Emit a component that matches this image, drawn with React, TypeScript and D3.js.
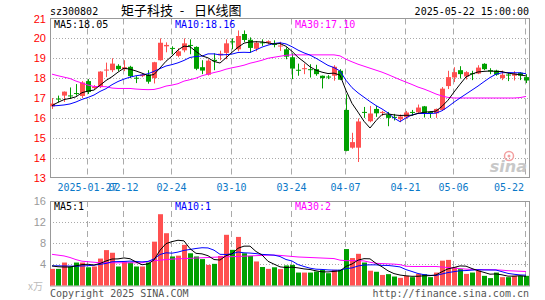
import React from 'react';
import * as d3 from 'd3';

// daily candles, 2025-01-17 .. 2025-05-22
const opens = [
  16.58, 16.97, 17.12, 17.13, 17.25, 17.1, 17.85, 17.5, 17.57, 18.38,
  18.4, 18.62, 18.45, 18.57, 18.02, 18.1, 18.18, 18.0, 18.9, 19.6,
  19.52, 19.12, 19.4, 19.67, 19.57, 18.55, 18.17, 18.92, 19.15, 19.27,
  19.85, 19.45, 20.22, 19.93, 19.48, 19.8, 19.78, 19.72, 19.6, 19.45,
  19.05, 18.42, 18.45, 18.45, 18.45, 18.12, 18.08, 18.12, 18.37, 16.4,
  14.5, 14.5, 16.3, 15.83, 16.45, 16.25, 16.17, 16.05, 15.93, 16.03,
  16.3, 16.28, 16.58, 16.3, 16.23, 16.4, 17.6, 18.03, 18.4, 18.08,
  18.25, 18.23, 18.72, 18.4, 18.38, 18.0, 18.18, 18.12, 18.27, 18.05,
];
const highs = [
  17.0, 17.12, 17.33, 17.53, 17.7, 17.85, 17.95, 17.65, 18.35, 18.78,
  19.0, 18.7, 18.9, 18.62, 18.1, 18.25, 18.4, 18.82, 20.0, 19.8,
  19.6, 19.5, 20.0, 19.95, 19.6, 18.9, 18.95, 19.25, 19.38, 19.95,
  20.0, 20.4, 20.4, 20.05, 19.87, 19.95, 19.9, 19.9, 19.83, 19.55,
  19.25, 18.73, 18.73, 18.7, 18.67, 18.13, 18.15, 18.65, 18.45, 17.18,
  15.25, 15.97, 16.55, 16.6, 16.6, 16.35, 16.3, 16.2, 16.17, 16.35,
  16.4, 16.67, 16.6, 16.33, 16.47, 17.55, 18.37, 18.55, 18.6, 18.35,
  18.37, 18.65, 18.75, 18.5, 18.42, 18.38, 18.25, 18.35, 18.3, 18.2,
];
const lows = [
  16.45, 16.78, 16.8, 16.95, 17.12, 17.0, 17.2, 17.45, 17.5, 18.05,
  18.3, 18.35, 18.35, 18.0, 17.75, 18.05, 17.72, 17.73, 18.88, 19.3,
  19.2, 19.05, 19.3, 19.2, 18.4, 18.2, 18.13, 18.4, 18.9, 18.95,
  19.45, 19.35, 19.82, 19.27, 19.35, 19.62, 19.7, 19.55, 19.37, 18.95,
  17.95, 18.12, 18.2, 18.03, 18.12, 17.48, 17.95, 17.87, 17.9, 14.32,
  14.45, 13.78, 16.0, 15.78, 16.05, 16.1, 15.58, 15.87, 15.78, 15.95,
  16.12, 16.25, 16.02, 16.0, 16.0, 16.35, 17.45, 17.8, 17.98, 17.93,
  17.9, 18.2, 18.4, 18.2, 18.12, 17.9, 17.85, 17.88, 17.9, 17.75,
];
const closes = [
  16.72, 16.93, 17.32, 17.1, 17.23, 17.78, 17.3, 17.58, 18.33, 18.43,
  18.73, 18.45, 18.55, 18.1, 17.98, 18.18, 17.82, 18.8, 19.78, 19.67,
  19.48, 19.35, 19.75, 19.63, 18.47, 18.38, 18.88, 18.85, 19.23, 19.75,
  19.8, 20.12, 19.92, 19.52, 19.78, 19.76, 19.86, 19.68, 19.64, 19.08,
  18.48, 18.38, 18.5, 18.42, 18.2, 18.0, 18.05, 18.57, 17.92, 14.34,
  14.78, 15.82, 16.27, 16.22, 16.23, 16.3, 16.0, 16.02, 16.07, 16.27,
  16.27, 16.52, 16.25, 16.23, 16.45, 17.47, 18.05, 18.3, 18.2, 18.3,
  18.2, 18.53, 18.45, 18.33, 18.17, 18.17, 18.15, 18.23, 18.12, 17.88,
];
const ma5 = [
  16.62, 16.78, 16.92, 16.98, 17.06, 17.27, 17.35, 17.4, 17.64, 17.88,
  18.07, 18.3, 18.5, 18.45, 18.36, 18.25, 18.13, 18.18, 18.51, 18.85,
  19.11, 19.42, 19.61, 19.58, 19.34, 19.12, 19.02, 18.84, 18.76, 19.02,
  19.3, 19.55, 19.76, 19.82, 19.83, 19.82, 19.77, 19.72, 19.74, 19.6,
  19.35, 19.05, 18.82, 18.57, 18.4, 18.3, 18.23, 18.25, 18.15, 17.38,
  16.73, 16.29, 15.83, 15.49, 15.86, 16.17, 16.2, 16.15, 16.12, 16.13,
  16.13, 16.23, 16.28, 16.31, 16.34, 16.58, 16.89, 17.3, 17.69, 18.06,
  18.21, 18.31, 18.34, 18.36, 18.34, 18.33, 18.25, 18.21, 18.17, 18.11,
];
const ma10 = [
  16.6, 16.62, 16.65, 16.7, 16.8, 16.93, 17.03, 17.15, 17.33, 17.47,
  17.67, 17.83, 17.95, 18.05, 18.12, 18.16, 18.22, 18.34, 18.48, 18.61,
  18.68, 18.77, 18.89, 19.04, 19.09, 19.11, 19.22, 19.22, 19.17, 19.18,
  19.21, 19.29, 19.3, 19.29, 19.42, 19.56, 19.66, 19.74, 19.78, 19.72,
  19.58, 19.41, 19.27, 19.16, 19.0, 18.82, 18.64, 18.53, 18.36, 17.89,
  17.52, 17.26, 17.04, 16.82, 16.62, 16.45, 16.25, 15.99, 15.81, 16.0,
  16.15, 16.22, 16.22, 16.22, 16.24, 16.36, 16.56, 16.79, 17.0, 17.2,
  17.4, 17.6, 17.82, 18.03, 18.2, 18.27, 18.28, 18.27, 18.27, 18.22,
];
const ma30 = [
  18.2, 18.12, 18.05, 17.98, 17.85, 17.75, 17.65, 17.58, 17.57, 17.57,
  17.5, 17.48, 17.48, 17.48, 17.45, 17.43, 17.42, 17.43, 17.5, 17.6,
  17.65, 17.72, 17.85, 17.92, 18.0, 18.12, 18.2, 18.28, 18.35, 18.45,
  18.52, 18.58, 18.65, 18.75, 18.82, 18.9, 19.0, 19.05, 19.1, 19.15,
  19.17, 19.17, 19.17, 19.17, 19.17, 19.17, 19.17, 19.17, 19.12, 18.95,
  18.82, 18.7, 18.6, 18.5, 18.4, 18.3, 18.18, 18.05, 17.92, 17.8,
  17.68, 17.55, 17.45, 17.33, 17.2, 17.1, 17.03, 17.0, 17.0, 17.0,
  17.0, 17.0, 17.0, 17.0, 17.0, 17.0, 17.0, 17.0, 17.02, 17.08,
];

// volume, x万
const volumes = [
  3.15, 3.15, 4.35, 3.6, 4.35, 4.35, 3.45, 3.6, 5.1, 6.7,
  6.2, 3.6, 4.5, 4.35, 3.6, 3.6, 4.35, 8.3, 13.5, 9.9,
  5.5, 5.65, 7.7, 6.1, 5.5, 5.0, 3.9, 4.1, 5.6, 9.6,
  6.75, 9.2, 6.1, 5.6, 4.55, 3.5, 3.15, 3.45, 3.1, 3.8,
  3.9, 2.45, 2.45, 2.45, 2.65, 2.96, 2.33, 2.96, 2.96, 6.9,
  5.2, 6.0, 4.35, 2.8, 2.6, 2.0, 2.15, 1.7, 1.45, 1.83,
  1.58, 2.2, 2.15, 1.58, 2.45, 4.7, 4.85, 3.45, 3.1, 2.2,
  2.45, 2.83, 1.83, 1.4, 2.45, 1.58, 1.58, 1.83, 1.83, 1.83,
];
const vma5 = [
  3.7, 3.55, 3.5, 3.5, 3.72, 3.96, 4.02, 3.87, 4.17, 4.64,
  5.01, 5.04, 5.22, 5.07, 4.45, 3.93, 4.08, 4.84, 6.67, 7.93,
  8.31, 8.57, 8.45, 6.97, 6.09, 5.99, 5.64, 4.92, 4.82, 5.64,
  5.99, 7.05, 7.45, 7.45, 6.44, 5.79, 4.58, 4.05, 3.53, 3.4,
  3.48, 3.34, 3.14, 3.03, 2.78, 2.59, 2.57, 2.67, 2.77, 3.62,
  4.07, 4.8, 5.08, 5.05, 4.19, 3.55, 2.78, 2.25, 1.98, 1.83,
  1.74, 1.75, 1.84, 1.87, 1.99, 2.62, 3.15, 3.41, 3.71, 3.66,
  3.21, 2.81, 2.48, 2.14, 2.19, 2.02, 1.77, 1.77, 1.85, 1.73,
];
const vma10 = [
  3.72, 3.72, 3.7, 3.68, 3.66, 3.7, 3.75, 3.85, 4.0, 4.18,
  4.49, 4.53, 4.55, 4.62, 4.55, 4.47, 4.56, 5.03, 5.87, 6.19,
  6.12, 6.33, 6.65, 6.82, 7.01, 7.15, 7.11, 6.69, 5.9, 5.87,
  5.99, 6.35, 6.19, 6.14, 6.04, 5.89, 5.82, 5.75, 5.49, 4.92,
  4.64, 3.96, 3.6, 3.28, 3.09, 3.04, 2.95, 2.91, 2.9, 3.2,
  3.33, 3.69, 3.88, 3.91, 3.91, 3.81, 3.79, 3.67, 3.52, 3.01,
  2.65, 2.27, 2.05, 1.92, 1.91, 2.18, 2.45, 2.62, 2.79, 2.83,
  2.91, 2.98, 2.94, 2.93, 2.93, 2.61, 2.29, 2.13, 2.0, 1.96,
];
const vma30 = [
  5.9, 5.75, 5.6, 5.3, 4.9, 4.6, 4.5, 4.4, 4.3, 4.3,
  4.3, 4.3, 4.3, 4.3, 4.3, 4.3, 4.55, 4.7, 4.8, 4.9,
  5.0, 5.05, 5.1, 5.15, 5.2, 5.25, 5.3, 5.35, 5.4, 5.45,
  5.45, 5.5, 5.55, 5.6, 5.65, 5.7, 5.75, 5.75, 5.7, 5.6,
  5.5, 5.4, 5.35, 5.3, 5.25, 5.2, 5.15, 5.1, 4.8, 4.7,
  4.7, 4.7, 4.65, 4.4, 4.2, 4.15, 4.1, 4.05, 3.95, 3.65,
  3.6, 3.6, 3.6, 3.6, 3.6, 3.5, 3.4, 3.3, 3.2, 3.1,
  3.05, 3.0, 3.0, 3.0, 2.96, 2.9, 2.8, 2.75, 2.7, 2.65,
];

const tickIndex = [6, 12, 20, 30, 40, 49, 59, 67, 79];
const tickLabels = ['2025-01-27', '02-12', '02-24', '03-10', '03-24', '04-07', '04-21', '05-06', '05-22'];
const priceTicks = [13, 14, 15, 16, 17, 18, 19, 20, 21];
const volTicks = [4, 8, 12, 16];

const RED = '#ff5050';
const GREEN = '#00a000';
const GRID = '#aaaaaa';
const MONO = '"DejaVu Sans Mono", monospace';
const CJK = '"Noto Sans CJK SC", sans-serif';

const App = () => {
  const W = 545;
  const H = 300;
  const left = 50;
  const right = 529;
  const top = 18.5;
  const bottom = 177.5;
  const vTop = 201;
  const vBottom = 285.5;

  const x = d3
    .scaleBand<number>()
    .domain(d3.range(closes.length))
    .range([49, 529])
    .paddingInner(0.2)
    .paddingOuter(0.1);
  const cx = (i: number) => (x(i) || 0) + x.bandwidth() / 2;
  const y = d3.scaleLinear().domain([13, 21]).range([bottom, top]);
  const vy = d3.scaleLinear().domain([0, 16]).range([vBottom, vTop]);

  const priceLine = (vals: number[]) =>
    d3.line<number>().x((d, i) => cx(i)).y((d) => y(d))(vals) || '';
  const volLine = (vals: number[]) =>
    d3.line<number>().x((d, i) => cx(i)).y((d) => vy(d))(vals) || '';

  const gridX = (i: number) => Math.round(cx(i) - 1.5) + 0.5;

  return (
    <svg width={W} height={H} style={{ position: 'absolute', left: 0, top: 0, background: '#fff' }}>
      {/* header */}
      <text x={50} y={15} fontFamily={MONO} fontSize={10} fill="#000">sz300802</text>
      <text x={121} y={15} fontFamily={CJK} fontSize={13} fill="#000">矩子科技</text>
      <text x={182} y={15} fontFamily={CJK} fontSize={13} fill="#000" textAnchor="middle">-</text>
      <text x={194} y={15} fontFamily={CJK} fontSize={13} fill="#000">日K线图</text>
      <text x={529} y={15} fontFamily={MONO} fontSize={10} fill="#000" textAnchor="end">2025-05-22 15:00:00</text>

      {/* grid */}
      {priceTicks.slice(1, -1).map((v) => (
        <line key={'pg' + v} x1={left} x2={right} y1={Math.round(y(v)) + 0.5} y2={Math.round(y(v)) + 0.5}
          stroke={GRID} strokeDasharray="1,2" />
      ))}
      {volTicks.slice(0, -1).map((v) => (
        <line key={'vg' + v} x1={left} x2={right} y1={Math.round(vy(v)) + 0.5} y2={Math.round(vy(v)) + 0.5}
          stroke={GRID} strokeDasharray="1,2" />
      ))}
      {tickIndex.map((i) => (
        <g key={'vx' + i}>
          <line x1={gridX(i)} x2={gridX(i)} y1={top} y2={bottom} stroke={GRID} strokeDasharray="6,4" />
          <line x1={gridX(i)} x2={gridX(i)} y1={vTop} y2={vBottom} stroke={GRID} strokeDasharray="6,4" />
        </g>
      ))}

      {/* frames */}
      <rect x={left + 0.5} y={top} width={right - left} height={bottom - top} fill="none" stroke="#999" />
      <rect x={left + 0.5} y={vTop + 0.5} width={right - left} height={vBottom - vTop} fill="none" stroke="#999" />

      {/* axis labels */}
      {priceTicks.map((v) => (
        <text key={'pl' + v} x={46} y={y(v) + 4} textAnchor="end" fontFamily='"Liberation Sans", Arial, sans-serif'
          fontSize={11} fill="#ff0000">{v}</text>
      ))}
      {volTicks.map((v) => (
        <text key={'vl' + v} x={46} y={vy(v) + 4} textAnchor="end" fontFamily='"Liberation Sans", Arial, sans-serif'
          fontSize={11} fill="#999">{v}</text>
      ))}
      <text x={28} y={290} fontFamily={CJK} fontSize={10} fill="#bbb">x万</text>

      {tickIndex.map((i, k) => (
        <text key={'dl' + i} x={k === tickIndex.length - 1 ? 524 : gridX(i)} y={191}
          textAnchor={k === tickIndex.length - 1 ? 'end' : 'middle'} fontFamily={MONO} fontSize={10} fill="#0a78c8">
          {tickLabels[k]}
        </text>
      ))}

      {/* sina watermark */}
      <g>
        <circle cx={509} cy={156} r={4.5} fill="none" stroke="#f3a0a0" strokeWidth={1.5} />
        <circle cx={509} cy={156} r={1.5} fill="#f3a0a0" />
        <text x={527} y={172} textAnchor="end" fontFamily='"DejaVu Sans", sans-serif' fontStyle="italic"
          fontWeight="bold" fontSize={16} fill="#c8c8c8">sina</text>
      </g>

      {/* candles */}
      {closes.map((c, i) => {
        const o = opens[i];
        const up = c >= o;
        const col = up ? RED : GREEN;
        const xc = Math.round(cx(i)) + 0.5;
        const bt = Math.min(y(o), y(c));
        const bh = Math.max(1, Math.abs(y(o) - y(c)));
        return (
          <g key={'k' + i}>
            <line x1={xc} x2={xc} y1={y(highs[i])} y2={y(lows[i])} stroke={col} />
            <rect x={xc - 2.5} y={bt} width={5} height={bh} fill={col} />
          </g>
        );
      })}

      <path d={priceLine(ma30)} fill="none" stroke="#ff00ff" strokeWidth={1} />
      <path d={priceLine(ma10)} fill="none" stroke="#0000ff" strokeWidth={1} />
      <path d={priceLine(ma5)} fill="none" stroke="#000" strokeWidth={1} />

      {/* volume */}
      {volumes.map((v, i) => {
        const up = closes[i] >= opens[i];
        const xc = Math.round(cx(i)) + 0.5;
        return (
          <rect key={'v' + i} x={xc - 2.5} y={vy(v)} width={5} height={vy(0) - vy(v)} fill={up ? RED : GREEN} />
        );
      })}
      <path d={volLine(vma30)} fill="none" stroke="#ff00ff" strokeWidth={1} />
      <path d={volLine(vma10)} fill="none" stroke="#0000ff" strokeWidth={1} />
      <path d={volLine(vma5)} fill="none" stroke="#000" strokeWidth={1} />

      {/* legends */}
      <text x={54} y={28} fontFamily={MONO} fontSize={10} fill="#000">MA5:18.05</text>
      <text x={175} y={28} fontFamily={MONO} fontSize={10} fill="#0000ff">MA10:18.16</text>
      <text x={295} y={28} fontFamily={MONO} fontSize={10} fill="#ff00ff">MA30:17.10</text>
      <text x={54} y={210} fontFamily={MONO} fontSize={10} fill="#000">MA5:1</text>
      <text x={175} y={210} fontFamily={MONO} fontSize={10} fill="#0000ff">MA10:1</text>
      <text x={295} y={210} fontFamily={MONO} fontSize={10} fill="#ff00ff">MA30:2</text>

      {/* footer */}
      <text x={50} y={297} fontFamily={MONO} fontSize={10} fill="#555">Copyright 2025 SINA.COM</text>
      <text x={529} y={297} textAnchor="end" fontFamily={MONO} fontSize={10} fill="#555">http://finance.sina.com.cn</text>
    </svg>
  );
};

export default App;
